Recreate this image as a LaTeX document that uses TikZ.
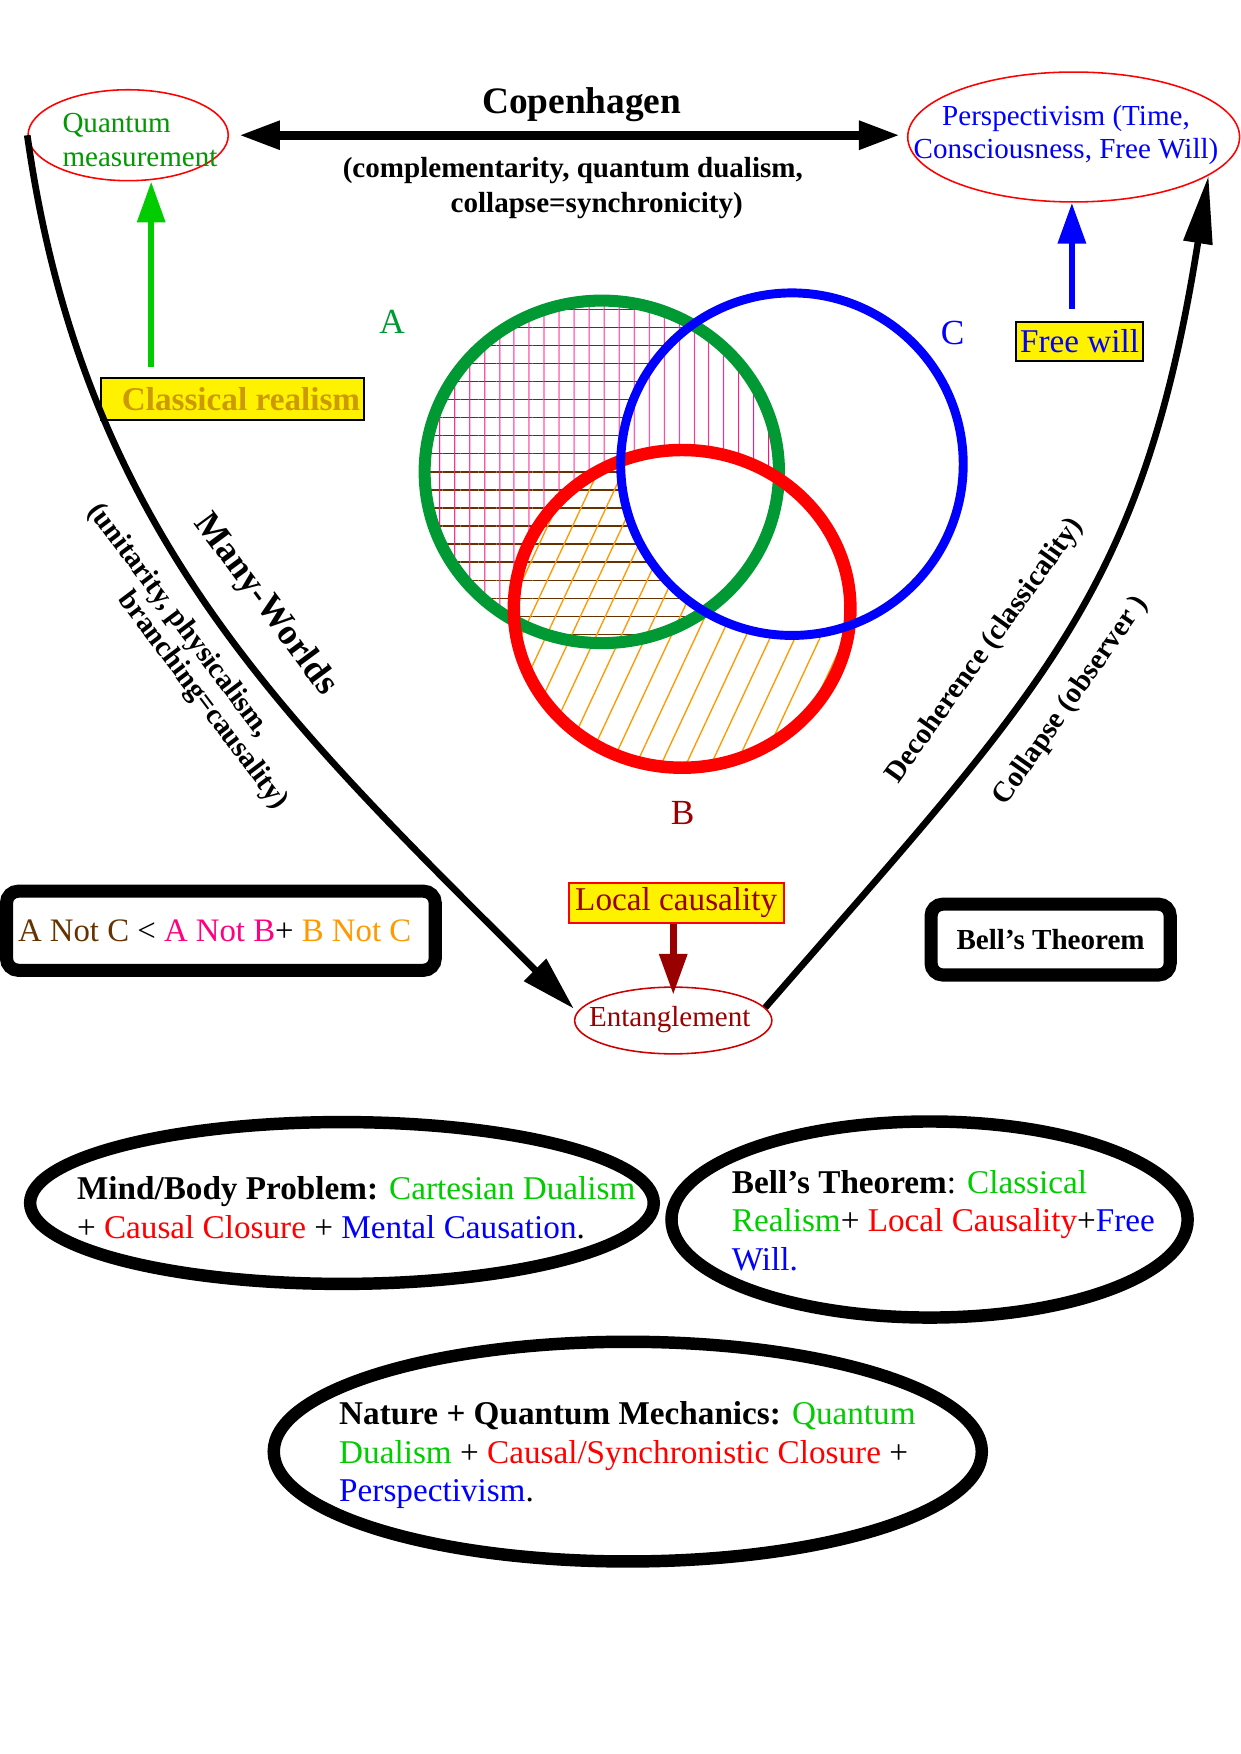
\documentclass[tikz,border=0pt]{standalone}
\usepackage{fontspec}
\setmainfont{Liberation Serif}
\usetikzlibrary{arrows.meta,shapes.geometric,patterns.meta}

\definecolor{qgreen}{RGB}{0,153,0}
\definecolor{venngreen}{RGB}{0,153,51}
\definecolor{lgreen}{RGB}{0,204,0}
\definecolor{dred}{RGB}{153,0,0}
\definecolor{ellred}{RGB}{204,0,0}
\definecolor{gold}{RGB}{204,153,0}
\definecolor{brownc}{RGB}{102,51,0}
\definecolor{pinkc}{RGB}{255,0,128}
\definecolor{orangec}{RGB}{255,153,0}

\begin{document}
\begin{tikzpicture}[
        oval/.style={draw=red, ellipse, line width=0.75pt},
        bigoval/.style={draw, ellipse, line width=6pt},
        hlbox/.style={draw, thick, fill=yellow, inner sep=2pt},
        frame/.style={draw, line width=6.3pt, rounded corners=0.2cm},
        txt/.style={font=\fontsize{14}{16}\selectfont},
        txtbig/.style={font=\fontsize{16}{18.5}\selectfont},
        boldtxt/.style={font=\bfseries\fontsize{14}{14}\selectfont},
        setlabel/.style={font=\fontsize{17}{17}\selectfont},
        link/.style={line width=3.2pt},
        uparrow/.style={line width=3.1pt, -{Triangle[length=19.7pt,width=13pt]}}
    ]
    \useasboundingbox (0,0) rectangle (21.01,29.70);

    % Top ellipses
    \node[oval, minimum width=3.39cm, minimum height=1.54cm] (qm) at (2.17,27.41) {};
    \node[txt, text=qgreen, align=left] (qmtext) at (2.37,27.33) {Quantum\\measurement};
    \node[oval, minimum width=5.62cm, minimum height=2.20cm] (persp) at (18.18,27.38) {};
    \node[txt, text=blue, align=center] (persptext) at (18.05,27.42) {Perspectivism (Time,\\Consciousness, Free Will)};

    % Copenhagen
    \draw[line width=4.2pt, {Triangle[length=19.7pt,width=13pt]}-{Triangle[length=19.7pt,width=13pt]},
        shorten <=0.17cm, shorten >=0.12cm] (qm.east) -- (qm.east -| persp.west);
    \node[font=\bfseries\fontsize{18}{20}\selectfont] (copen) at (9.85,27.93) {Copenhagen};
    \node[font=\bfseries\fontsize{14}{16.9}\selectfont, align=center] (copsub) at (9.70,26.52)
        {(complementarity, quantum dualism,\\\hspace*{23pt}collapse=synchronicity)};

    % Classical realism
    \node[hlbox, text=gold, font=\bfseries\fontsize{16}{18}\selectfont, minimum width=4.38cm, minimum height=0.71cm] (clreal) at (3.94,22.94) {\hspace*{8pt}Classical realism};
    \coordinate (gfoot) at (2.56,23.49);
    \draw[uparrow, lgreen] (gfoot) -- (gfoot |- qm.south);

    % Free will
    \node[hlbox, txtbig, text=blue, minimum width=2.10cm, minimum height=0.66cm] (fwill) at (18.28,23.92) {Free will};
    \coordinate (bfoot) at (18.15,24.47);
    \draw[uparrow, blue, line width=3.2pt] (bfoot) -- (bfoot |- persp.south);

    % Venn sets
    \coordinate (ca) at (10.19,21.71);
    \coordinate (cb) at (11.55,19.39);
    \coordinate (cc) at (13.41,21.84);

    % A not C
    \begin{scope}
        \clip (ca) ellipse (3.00 and 2.90);
        \fill[even odd rule, pattern={Lines[angle=0,distance=8.7pt,line width=0.65pt]}, pattern color=brownc]
            (ca) ellipse (3.00 and 2.90) (cc) circle (2.90);
    \end{scope}
    % A not B
    \begin{scope}
        \clip (ca) ellipse (3.00 and 2.90);
        \fill[even odd rule, pattern={Lines[angle=90,distance=7.4pt,line width=0.6pt]}, pattern color=pinkc]
            (ca) ellipse (3.00 and 2.90) (cb) ellipse (2.85 and 2.69);
    \end{scope}
    % B not C
    \begin{scope}
        \clip (cb) ellipse (2.85 and 2.69);
        \fill[even odd rule, pattern={Lines[angle=65,distance=10.9pt,line width=0.65pt]}, pattern color=orangec]
            (cb) ellipse (2.85 and 2.69) (cc) circle (2.90);
    \end{scope}

    \draw[venngreen, line width=5.8pt] (ca) ellipse (3.00 and 2.90);
    \draw[red, line width=6pt] (cb) ellipse (2.85 and 2.69);
    \draw[blue, line width=4.3pt] (cc) circle (2.90);

    \node[setlabel, text=venngreen] (labA) at (6.64,24.25) {A};
    \node[setlabel, text=dred] (labB) at (11.56,15.94) {B};
    \node[setlabel, text=blue] (labC) at (16.13,24.06) {C};

    % Entanglement and the two arcs
    \node[oval, draw=ellred, minimum width=3.34cm, minimum height=1.13cm] (ent) at (11.40,12.42) {};
    \node[txt, text=dred] (enttext) at (11.34,12.43) {Entanglement};

    \draw[link, -{Triangle[length=26.5pt,width=14.5pt]}] (qm.west) to[out=-82, in=135] ([yshift=0.2cm]ent.west);
    \draw[link, -{Triangle[length=32.8pt,width=13.5pt]}] (ent.8) to[out=49, in=-99, looseness=1.15] (persp.-16);

    \node[rotate=-53.5, font=\bfseries\fontsize{17.5}{18}\selectfont] (mw) at (4.49,19.46) {Many-Worlds};
    \node[rotate=-53, boldtxt, align=left] (mwsub) at (3.17,18.58) {(unitarity, physicalism,\\\hspace*{43pt}branching=causality)};
    \node[rotate=54.4, boldtxt] (deco) at (16.68,18.68) {Decoherence (classicality)};
    \node[rotate=55, boldtxt] (coll) at (18.13,17.83) {Collapse (observer )};

    % Local causality
    \node[hlbox, draw=red, txtbig, text=dred, minimum width=3.64cm, minimum height=0.68cm] (lcaus) at (11.45,14.41) {Local causality};
    \draw[uparrow, dred, line width=3.2pt, shorten >=-4pt] (ent.north |- lcaus.south) -- (ent.north);

    % Framed boxes
    \node[frame, font=\fontsize{15.8}{18}\selectfont, minimum width=7.26cm, minimum height=1.34cm] (anotc) at (3.74,13.94)
        {\textcolor{brownc}{A Not C} < \textcolor{pinkc}{A Not B}+ \textcolor{orangec}{B Not C}\hspace*{6pt}};
    \node[frame, boldtxt, minimum width=4.05cm, minimum height=1.20cm] (bellbox) at (17.79,13.79) {Bell’s Theorem};

    % Bottom ellipses
    \node[bigoval, minimum width=10.56cm, minimum height=2.74cm] (mbo) at (5.79,9.33) {};
    \node[txtbig, align=left, anchor=west] (mbtext) at (1.18,9.25)
        {\textbf{Mind/Body Problem:} \textcolor{lgreen}{Cartesian Dualism}\\+ \textcolor{red}{Causal Closure} + \textcolor{blue}{Mental Causation}.};

    \node[bigoval, minimum width=8.74cm, minimum height=3.32cm] (bto) at (15.74,9.05) {};
    \node[txtbig, align=left, anchor=west] (bttext) at (12.27,9.03)
        {\textbf{Bell’s Theorem}: \textcolor{lgreen}{Classical}\\\textcolor{lgreen}{Realism}+ \textcolor{red}{Local Causality}+\textcolor{blue}{Free}\\\textcolor{blue}{Will.}};

    \node[bigoval, minimum width=11.99cm, minimum height=3.72cm] (nqo) at (10.63,5.12) {};
    \node[txtbig, align=left, anchor=west] (nqtext) at (5.62,5.06)
        {\textbf{Nature + Quantum Mechanics:} \textcolor{lgreen}{Quantum}\\\textcolor{lgreen}{Dualism} + \textcolor{red}{Causal/Synchronistic Closure} +\\\textcolor{blue}{Perspectivism}.};

\end{tikzpicture}
\end{document}
